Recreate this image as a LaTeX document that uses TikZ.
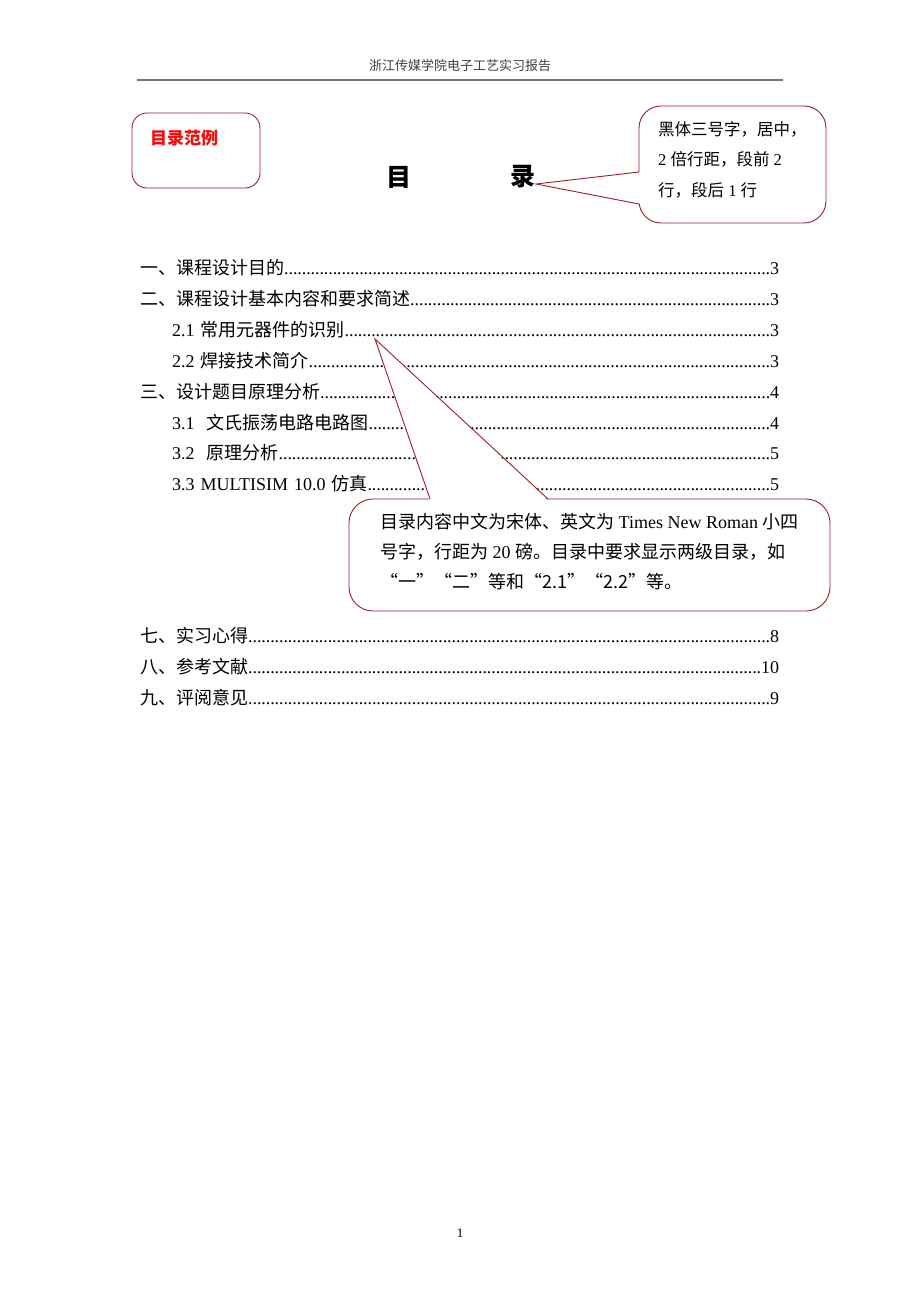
\documentclass[tikz,border=0pt]{standalone}
\usepackage{fontspec}
\setmainfont{Liberation Serif}
\newfontfamily\cjk{Noto Sans CJK SC}
\usetikzlibrary{positioning}

\definecolor{noteline}{RGB}{155,30,40}
\definecolor{notered}{RGB}{250,10,10}
% close dot leaders, as in a Word contents page
\newcommand\tocdots{\xleaders\hbox to 4.4pt{\hss.\hss}\hfill}

\tikzset{
  callout/.style={draw=noteline, line width=0.9pt, fill=white},
  pointer/.style={draw=noteline, line width=0.9pt, line join=miter},
  tocrow/.style={anchor=base west, inner sep=0pt, align=left,
                 font=\fontsize{18}{18}\selectfont},
  titlechar/.style={inner sep=0pt, font=\cjk\bfseries\fontsize{25}{25}\selectfont},
}

\begin{document}
\begin{tikzpicture}[x=1pt,y=-1pt]
    \useasboundingbox[fill=white] (0,0) rectangle (920,1302);

    % running head
    \node[font=\cjk\fontsize{13}{13}\selectfont, text=black!75] (head) at (460,66)
         {浙江传媒学院电子工艺实习报告};
    \coordinate (ruleL) at (137,80);
    \coordinate (ruleR) at (783,80);
    \draw[black!55, line width=1.1pt] (ruleL) -- (ruleR);

    % example tag, top left
    \draw[callout, rounded corners=15pt] (132,113) rectangle (260,188);
    \node[anchor=west, inner sep=0pt, text=notered,
          font=\cjk\bfseries\fontsize{17}{17}\selectfont] (tag) at (150,138) {目录范例};

    % heading
    \node[titlechar] (mu) at (399,177) {目};
    \node[titlechar] (lu) at (523,177) {录};

    % contents rows
    \foreach \y/\x/\w/\txt [count=\i] in {
        274/140/639/{{\cjk 一、课程设计目的}\tocdots 3},
        305/140/639/{{\cjk 二、课程设计基本内容和要求简述}\tocdots 3},
        336/172/607/{2.1 {\cjk 常用元器件的识别}\tocdots 3},
        367/172/607/{2.2 {\cjk 焊接技术简介}\tocdots 3},
        398/140/639/{{\cjk 三、设计题目原理分析}\tocdots 4},
        429/172/607/{3.1\ \ {\cjk 文氏振荡电路电路图}\tocdots 4},
        459/172/607/{3.2\ \ {\cjk 原理分析}\tocdots 5},
        490/172/607/{3.3 MULTISIM 10.0 {\cjk 仿真}\tocdots 5},
        642/140/639/{{\cjk 七、实习心得}\tocdots 8},
        673/140/639/{{\cjk 八、参考文献}\tocdots 10},
        704/140/639/{{\cjk 九、评阅意见}\tocdots 9}}
        \node[tocrow, text width=\w pt] (toc\i) at (\x,\y) {\txt};

    % note on the heading
    \coordinate (tipA) at (536,184);
    \draw[callout, rounded corners=22pt] (639,106) rectangle (826,223);
    \fill[white] (641,172) -- (tipA) -- (641,204) -- cycle;
    \draw[pointer] (639,172) -- (tipA) -- (639,204);
    \node[anchor=north west, inner sep=0pt, align=left,
          font=\fontsize{16.5}{30.5}\selectfont] (noteA) at (658,121)
         {{\cjk 黑体三号字，居中，}\\
          2 {\cjk 倍行距，段前} 2\\
          {\cjk 行，段后} 1 {\cjk 行}};

    % note on the contents
    \coordinate (tipB) at (375,339);
    \draw[callout, rounded corners=24pt] (349,499) rectangle (830,611);
    \fill[white] (430,501.5) -- (tipB) -- (548,501.5) -- cycle;
    \draw[pointer] (430,499) -- (tipB) -- (548,499);
    \node[anchor=north west, inner sep=0pt, align=left,
          font=\fontsize{18}{30}\selectfont] (noteB) at (380,513)
         {{\cjk 目录内容中文为宋体、英文为} Times New Roman {\cjk 小四}\\
          {\cjk 号字，行距为} 20 {\cjk 磅。目录中要求显示两级目录，如}\\
          {\cjk “一”“二”等和“2.1”“2.2”等。}};

    % page number
    \node[font=\fontsize{13}{13}\selectfont] (folio) at (460,1233) {1};
\end{tikzpicture}
\end{document}
